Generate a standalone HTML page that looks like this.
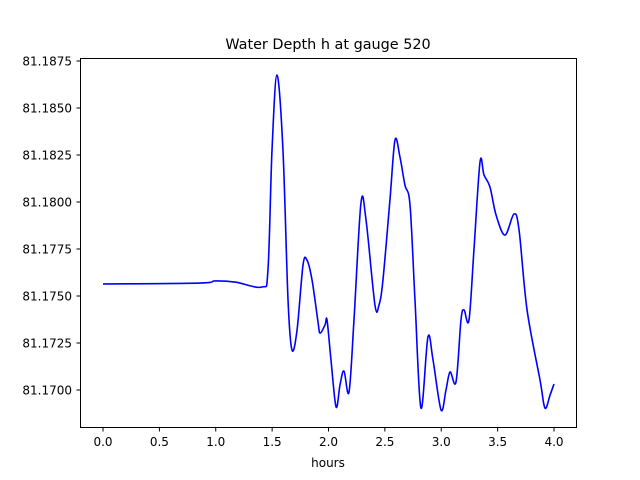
<!DOCTYPE html>
<html><head><meta charset="utf-8"><style>
body{margin:0;background:#fff;}
svg{display:block;font-family:"DejaVu Sans","Liberation Sans",sans-serif;}
</style></head><body>
<svg id="chart" width="640" height="480" viewBox="0 0 640 480">
<rect width="640" height="480" fill="#fff"/>
<text x="328" y="49" font-size="14.4" text-anchor="middle">Water Depth h at gauge 520</text>
<g id="ticks"></g>
<path id="line" fill="none" stroke="#0000ff" stroke-width="1.6"/>
<rect x="80.5" y="58.5" width="496" height="369" fill="none" stroke="#000" stroke-width="1"/>
<text x="328" y="467" font-size="12" text-anchor="middle">hours</text>
</svg>
<script>
const hours=[0,0.86,0.993,1.171,1.41,1.463,1.499,1.543,1.596,1.641,1.676,1.721,1.774,1.809,1.854,1.907,1.925,1.969,1.987,2.022,2.067,2.102,2.137,2.182,2.226,2.288,2.333,2.412,2.448,2.483,2.545,2.59,2.634,2.678,2.723,2.767,2.82,2.882,2.927,2.998,3.042,3.078,3.131,3.175,3.202,3.246,3.29,3.344,3.379,3.432,3.486,3.565,3.645,3.69,3.761,3.876,3.92,3.965,4.0];
const depth=[81.17564,81.17569,81.1758,81.17574,81.17548,81.17638,81.18277,81.18676,81.18277,81.17479,81.17213,81.17319,81.17665,81.17691,81.17585,81.17362,81.17303,81.17346,81.17372,81.1716,81.1691,81.17027,81.17101,81.16989,81.17372,81.17995,81.17904,81.17452,81.17452,81.17585,81.18011,81.1833,81.18239,81.1809,81.17984,81.17479,81.16904,81.17282,81.1716,81.16894,81.17,81.17096,81.17043,81.17372,81.17426,81.17372,81.17745,81.18213,81.18144,81.1808,81.17931,81.17824,81.17936,81.17851,81.17426,81.17053,81.16904,81.16973,81.17032];
const xTicks=[0,0.5,1,1.5,2,2.5,3,3.5,4];
const xTickLabels=["0.0","0.5","1.0","1.5","2.0","2.5","3.0","3.5","4.0"];
const yTicks=[81.17,81.1725,81.175,81.1775,81.18,81.1825,81.185,81.1875];
const yTickLabels=["81.1700","81.1725","81.1750","81.1775","81.1800","81.1825","81.1850","81.1875"];
const X=h=>103+h*112.75;
const Y=v=>390-(v-81.17)/0.0025*47;
const NS="http://www.w3.org/2000/svg";
const g=document.getElementById('ticks');
function mk(tag,attrs){const e=document.createElementNS(NS,tag);for(const k in attrs)e.setAttribute(k,attrs[k]);g.appendChild(e);return e;}
xTicks.forEach((t,i)=>{
  const x=X(t);
  const l=mk('line',{x1:x,x2:x,y1:427.5,y2:431.5,stroke:'#000'});
  
  
  const tx=mk('text',{x:x,y:446,'font-size':12,'text-anchor':'middle'});
  tx.textContent=xTickLabels[i];
  
  
});
yTicks.forEach((t,i)=>{
  const y=Y(t);
  const l=mk('line',{x1:76.5,x2:80.5,y1:y,y2:y,stroke:'#000'});
  
  
  const tx=mk('text',{x:72,y:y+4.5,'font-size':12,'text-anchor':'end'});
  tx.textContent=yTickLabels[i];
  
  
});
const pts=hours.map((h,i)=>[X(h),Y(depth[i])]);
let d='M'+pts[0][0]+','+pts[0][1];
for(let i=0;i<pts.length-1;i++){
  const p0=pts[Math.max(i-1,0)],p1=pts[i],p2=pts[i+1],p3=pts[Math.min(i+2,pts.length-1)];
  const c1=[p1[0]+(p2[0]-p0[0])/6,p1[1]+(p2[1]-p0[1])/6];
  const c2=[p2[0]-(p3[0]-p1[0])/6,p2[1]-(p3[1]-p1[1])/6];
  d+=' C'+c1[0]+','+c1[1]+' '+c2[0]+','+c2[1]+' '+p2[0]+','+p2[1];
}
document.getElementById('line').setAttribute('d',d);
</script>
</body></html>
